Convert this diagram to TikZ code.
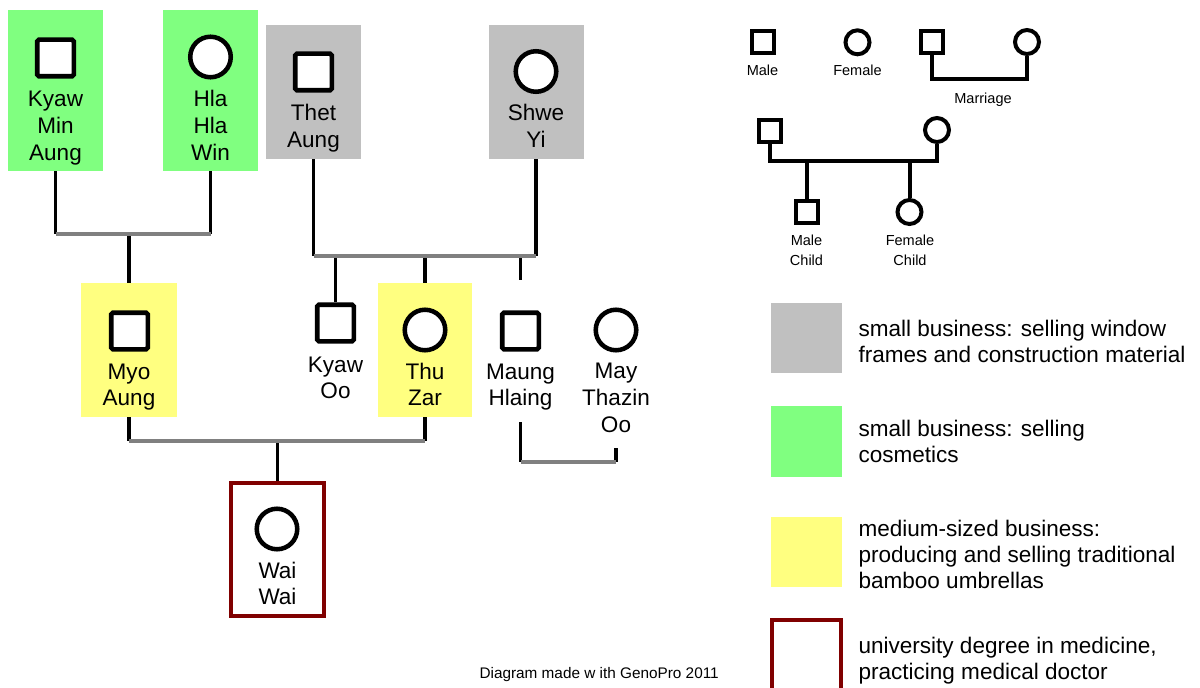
\documentclass[tikz,border=0pt]{standalone}
\usepackage{fontspec}
\setmainfont{Liberation Sans}
\definecolor{gpgreen}{HTML}{80FF80}
\definecolor{gpgrey}{HTML}{C0C0C0}
\definecolor{gpyellow}{HTML}{FFFF80}
\definecolor{gpred}{HTML}{800000}
\definecolor{gpline}{HTML}{808080}
\begin{document}
\begin{tikzpicture}[x=0.75pt,y=-0.75pt,
  cbox/.style={draw=none, inner sep=0, minimum width=71.25pt},
  psq/.style={draw, fill=white, line width=3.4pt, minimum width=27.4pt, minimum height=27.4pt, inner sep=0, rounded corners=1.2pt},
  pci/.style={circle, draw, fill=white, line width=3.4pt, minimum size=30.4pt, inner sep=0},
  lsq/.style={draw, fill=white, line width=3pt, minimum width=16.5pt, minimum height=16.5pt, inner sep=0},
  lci/.style={circle, draw, fill=white, line width=3pt, minimum size=18pt, inner sep=0},
  nm/.style={font=\fontsize{16.9}{20}\selectfont, align=center, inner sep=0},
  lt/.style={font=\fontsize{16.9}{19.5}\selectfont, align=left, anchor=west, inner sep=0},
  st/.style={font=\fontsize{10.9}{15}\selectfont, align=center, inner sep=0},
  conn/.style={draw=black, line width=2.8pt},
  lconn/.style={draw=black, line width=3pt, line join=miter},
  marr/.style={draw=gpline, line width=3pt}]
\fill[white] (0,0) rectangle (1200,688);
\useasboundingbox (0,0) rectangle (1200,688);

% coloured boxes
\node[cbox, fill=gpgreen, minimum height=120.75pt] (kmab) at (55.5,90.5) {};
\node[cbox, fill=gpgreen, minimum height=120.75pt] (hhwb) at (210.5,90.5) {};
\node[cbox, fill=gpgrey, minimum height=100.5pt] (tab) at (313.5,92) {};
\node[cbox, fill=gpgrey, minimum height=100.5pt] (syb) at (536,92) {};
\node[cbox, fill=gpyellow, minimum height=100.5pt, minimum width=72pt] (myob) at (129,350) {};
\node[cbox, fill=gpyellow, minimum height=100.5pt, minimum width=70.5pt] (tzb) at (425,350) {};
\node[draw=gpred, line width=3pt, minimum width=69.75pt, minimum height=99.75pt, inner sep=0] (wwb) at (277.5,549.5) {};

% marriage bar levels
\coordinate (m1) at (0,234.5);
\coordinate (m2) at (0,256);
\coordinate (m3) at (0,441);
\coordinate (m4) at (0,462);
\coordinate (mhstub) at (520.5,280);

% connectors
\draw[conn] (kmab.south) -- (kmab.south |- m1);
\draw[conn] (hhwb.south) -- (hhwb.south |- m1);
\draw[conn] (myob.north |- m1) -- (myob.north);
\draw[marr] (kmab.south |- m1) -- (hhwb.south |- m1);

\draw[conn] (tab.south) -- (tab.south |- m2);
\draw[conn] (syb.south) -- (syb.south |- m2);

\node[psq] (kos) at (335.5,323) {};
\draw[conn] (kos.north |- m2) -- (kos.north);
\draw[conn] (tzb.north |- m2) -- (tzb.north);
\draw[conn] (mhstub |- m2) -- (mhstub);
\draw[marr] (tab.south |- m2) -- (syb.south |- m2);

\draw[conn] (myob.south) -- (myob.south |- m3);
\draw[conn] (tzb.south) -- (tzb.south |- m3);
\draw[conn] (wwb.north |- m3) -- (wwb.north);
\draw[marr] (myob.south |- m3) -- (tzb.south |- m3);

% symbols
\node[psq] (kmas) at (55.5,58) {};
\node[pci] (hhws) at (210.5,57) {};
\node[psq] (tas) at (313.5,72) {};
\node[pci] (sys) at (536,71.5) {};
\node[psq] (myos) at (129.5,331) {};
\node[pci] (tzs) at (425,330) {};
\node[psq] (mhs) at (520.5,331) {};
\node[pci] (mtos) at (616,330) {};
\node[pci] (wws) at (277,529) {};

% names
\node[nm] (kmat) at (55.5,128.3) {Kyaw\strut\\Min\strut\\Aung\strut};
\node[nm] (hhwt) at (210.5,128.3) {Hla\strut\\Hla\strut\\Win\strut};
\node[nm] (tat) at (313.5,129) {Thet\strut\\Aung\strut};
\node[nm] (syt) at (536,129) {Shwe\strut\\Yi\strut};
\node[nm] (myot) at (129,387) {Myo\strut\\Aung\strut};
\node[nm] (kot) at (335.5,380) {Kyaw\strut\\Oo\strut};
\node[nm] (tzt) at (425,387) {Thu\strut\\Zar\strut};
\node[nm] (mht) at (520.5,387) {Maung\strut\\Hlaing\strut};
\node[nm] (mtot) at (616,400.3) {May\strut\\Thazin\strut\\Oo\strut};
\node[nm] (wwt) at (277.5,586) {Wai\strut\\Wai\strut};

% Maung - May marriage
\coordinate (mha) at ([yshift=-6.2pt]mht.south);
\coordinate (mtoa) at ([yshift=-5.8pt]mtot.south);
\draw[conn] (mha) -- (mha |- m4);
\draw[conn] (mtoa) -- (mtoa |- m4);
\draw[marr] (mha |- m4) -- (mtoa |- m4);

\node[font=\fontsize{11.5}{14}\selectfont, anchor=base east, inner sep=0] (credit) at (719,678) {Diagram made w ith GenoPro 2011};

% legend symbols
\node[lsq] (lmale) at (762.7,42) {};
\node[lci] (lfem) at (857.5,42.3) {};
\node[st, anchor=base] (lmalet) at (762.5,76) {Male};
\node[st, anchor=base] (lfemt) at (857.5,76) {Female};

\coordinate (lmar) at (980,79.3);
\node[lsq] (lmh) at (932,42) {};
\node[lci] (lmw) at (1027,42) {};
\draw[lconn] (lmh.south) |- (lmar) -| (lmw.south);
\node[st, anchor=base] (lmart) at (983,104) {Marriage};

\coordinate (lfam) at (850,160.7);
\node[lsq] (lpa) at (770,131) {};
\node[lci] (lma) at (937,130) {};
\node[lsq] (lmc) at (806.5,212) {};
\node[lci] (lfc) at (909.5,212) {};
\draw[lconn] (lpa.south) |- (lfam) -| (lma.south);
\draw[lconn] (lmc.north |- lfam) -- (lmc.north);
\draw[lconn] (lfc.north |- lfam) -- (lfc.north);
\node[st] (lmct) at (806.5,252) {Male\strut\\Child\strut};
\node[st] (lfct) at (910,252) {Female\strut\\Child\strut};

% legend colour boxes
\node[cbox, fill=gpgrey, minimum width=53.25pt, minimum height=52.5pt] (lgrey) at (806.5,338.3) {};
\node[cbox, fill=gpgreen, minimum width=53.25pt, minimum height=53pt] (lgreen) at (806.5,441.3) {};
\node[cbox, fill=gpyellow, minimum width=53.25pt, minimum height=52.5pt] (lyel) at (806.5,552.3) {};
\node[draw=gpred, line width=3pt, minimum width=52pt, minimum height=75pt, inner sep=0] (lred) at (806.7,670.3) {};

\node[lt] (lgreyt) at (858.3,344.5) {small business: selling window\strut\\frames and construction material\strut};
\node[lt] (lgreent) at (858.3,444.5) {small business: selling\strut\\cosmetics\strut};
\node[lt] (lyelt) at (858.3,557.5) {medium-sized business:\strut\\producing and selling traditional\strut\\bamboo umbrellas\strut};
\node[lt] (lredt) at (858.3,661.1) {university degree in medicine,\strut\\practicing medical doctor\strut};
\end{tikzpicture}
\end{document}
